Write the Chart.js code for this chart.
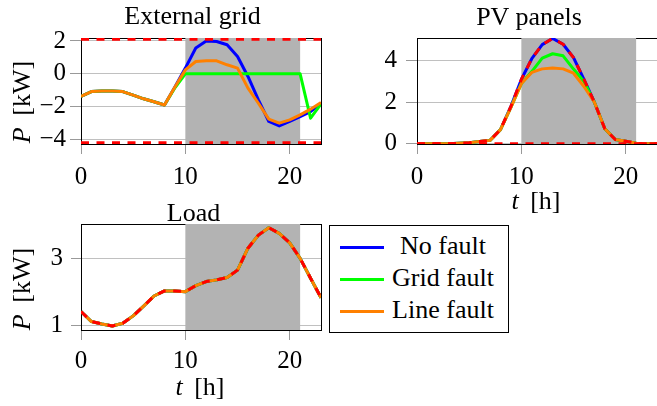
<!DOCTYPE html>
<html>
<head>
<meta charset="utf-8">
<script src="https://cdn.jsdelivr.net/npm/chart.js@4.4.1/dist/chart.umd.min.js"></script>
<style>
html,body{margin:0;padding:0;width:657px;height:406px;overflow:hidden;background:#fff;}
body{position:relative;font-family:'Liberation Serif','Times New Roman',serif;color:#000;}
canvas{position:absolute;}
.lbl{position:absolute;font-size:26px;line-height:26px;white-space:nowrap;transform:translate(-50%,-50%);}
.ax{word-spacing:5px;}
.rot{transform:translate(-50%,-50%) rotate(-90deg);}
#legend{position:absolute;left:329px;top:225px;width:178px;height:106px;border:1px solid #000;background:#fff;}
.swatch{position:absolute;left:10px;width:44px;height:3px;}
.ltxt{position:absolute;left:113px;font-size:26px;line-height:26px;white-space:nowrap;transform:translate(-50%,-50%);}
</style>
</head>
<body>
<canvas id="cGrid" width="330" height="195" style="left:0;top:0"></canvas>
<canvas id="cPV" width="340" height="220" style="left:330px;top:0"></canvas>
<canvas id="cLoad" width="330" height="216" style="left:0;top:190px"></canvas>

<div class="lbl" style="left:192.5px;top:16px">External grid</div>
<div class="lbl" style="left:529px;top:16.5px">PV panels</div>
<div class="lbl" style="left:193.5px;top:212.5px">Load</div>

<div class="lbl rot ax" style="left:21.5px;top:102px"><i>P</i> [kW]</div>
<div class="lbl rot ax" style="left:21.5px;top:289px"><i>P</i> [kW]</div>
<div class="lbl ax" style="left:536px;top:200.5px"><i>t</i> [h]</div>
<div class="lbl ax" style="left:200px;top:387px"><i>t</i> [h]</div>

<div id="legend"></div>

<script>
// ---------- data ----------
const hours = [0,1,2,3,4,5,6,7,8,9,10,11,12,13,14,15,16,17,18,19,20,21,22,23];
const seriesNames = ['No fault', 'Grid fault', 'Line fault'];
const faultWindow = [10, 21];
const xTickValues = [0, 10, 20];

// External grid power [kW]
const gridNoFault   = [-1.38,-1.08,-1.05,-1.05,-1.08,-1.3,-1.52,-1.7,-1.9,-0.8,0.35,1.57,2.0,1.97,1.77,1.05,-0.16,-1.59,-2.9,-3.17,-2.9,-2.6,-2.3,-1.79];
const gridGridFault = [-1.38,-1.08,-1.05,-1.05,-1.08,-1.3,-1.52,-1.7,-1.9,-0.85,0,0,0,0,0,0,0,0,0,0,0,0,-2.7,-1.83];
const gridLineFault = [-1.38,-1.08,-1.05,-1.05,-1.08,-1.3,-1.52,-1.7,-1.9,-0.8,0.24,0.75,0.79,0.79,0.55,0.35,-0.87,-1.79,-2.76,-3.0,-2.8,-2.5,-2.15,-1.75];
const gridLimits    = [2.1, -4.2];
const gridTickValues = [-4, -2, 0, 2];

// PV panels power [kW]
const pvNoFault   = [0,0,0,0,0.02,0.05,0.1,0.16,0.68,1.8,3.1,4.1,4.78,5.08,4.8,4.15,3.1,2.0,0.72,0.2,0.12,0.02,0,0];
const pvGridFault = [0,0,0,0,0.02,0.05,0.1,0.16,0.68,1.75,2.9,3.48,4.13,4.34,4.24,3.6,3.0,2.0,0.72,0.2,0.12,0.02,0,0];
const pvLineFault = [0,0,0,0,0.02,0.05,0.1,0.16,0.68,1.75,2.9,3.44,3.61,3.65,3.61,3.4,2.76,2.0,0.72,0.2,0.12,0.02,0,0];
const pvAvailable = [0,0,0,0,0.02,0.05,0.1,0.16,0.68,1.8,3.1,4.1,4.78,5.08,4.8,4.15,3.1,2.0,0.72,0.2,0.12,0.02,0,0];
const pvLowerLimit = [0];
const pvTickValues = [0, 2, 4];

// Load power [kW] (identical in all scenarios)
const loadDemand = [1.42,1.12,1.05,0.99,1.07,1.29,1.58,1.88,2.03,2.03,2.01,2.19,2.31,2.36,2.43,2.65,3.3,3.69,3.91,3.74,3.46,3.0,2.41,1.83];
const loadTickValues = [1, 3];

// ---------- styles ----------
const COLORS = ['#0000ff', '#00ff00', '#ff8000'];
const RED = '#ff0000';
const SHADE = '#b3b3b3';
const FONT = "'Liberation Serif', 'Times New Roman', serif";
Chart.defaults.font.family = FONT;
Chart.defaults.color = '#000';

function pts(values) { return values.map((v, i) => ({x: hours[i], y: v})); }
function flat(v) { return [{x: hours[0], y: v}, {x: hours[hours.length - 1], y: v}]; }
function line(data, color, order, dashed) {
  return {
    data, borderColor: color, backgroundColor: color, borderWidth: 3,
    pointRadius: 0, pointHoverRadius: 0, fill: false, tension: 0, order,
    borderDash: dashed ? [8, 7.5] : [], borderJoinStyle: 'round', borderCapStyle: 'butt'
  };
}

const shadePlugin = {
  id: 'shade',
  beforeDatasetsDraw(chart) {
    const {ctx, chartArea: a, scales} = chart;
    const L = Math.round(a.left) + 0.5, R = Math.round(a.right) + 0.5;
    const T = Math.round(a.top) + 0.5, B = Math.round(a.bottom) + 0.5;
    ctx.save();
    ctx.strokeStyle = '#000';
    ctx.lineWidth = 1;
    ctx.strokeRect(L, T, R - L, B - T);
    const x0 = scales.x.getPixelForValue(faultWindow[0]);
    const x1 = scales.x.getPixelForValue(faultWindow[1]);
    ctx.fillStyle = SHADE;
    ctx.fillRect(x0, Math.round(a.top), x1 - x0, Math.round(a.bottom) - Math.round(a.top));
    ctx.restore();
  }
};

function fmt(v) { return v < 0 ? '\u2212' + Math.abs(v) : String(v); }

function makeChart(id, o) {
  return new Chart(document.getElementById(id), {
    type: 'line',
    data: {datasets: o.datasets},
    options: {
      responsive: false, animation: false, events: [],
      layout: {padding: o.pad},
      plugins: {legend: {display: false}, tooltip: {enabled: false}, title: {display: false}},
      scales: {
        x: {
          type: 'linear', min: hours[0], max: hours[hours.length - 1],
          afterBuildTicks: s => { s.ticks = xTickValues.map(v => ({value: v})); },
          afterFit: s => { s.height = o.xHeight; },
          grid: {drawOnChartArea: false, drawTicks: true, tickLength: 10, tickColor: '#999'},
          border: {display: false},
          ticks: {color: '#000', font: {family: FONT, size: 25, lineHeight: 1}, padding: o.xTickPad, maxRotation: 0, autoSkip: false}
        },
        y: {
          type: 'linear', min: o.yMin, max: o.yMax,
          afterBuildTicks: s => { s.ticks = o.yTicks.map(v => ({value: v})); },
          afterFit: s => { s.width = o.yWidth; },
          grid: {color: '#c0c0c0', tickColor: '#999', tickLength: o.yTickLen},
          border: {display: false},
          ticks: {color: '#000', font: {family: FONT, size: 25, lineHeight: 1}, padding: o.yTickPad, autoSkip: false, callback: fmt}
        }
      }
    },
    plugins: [shadePlugin]
  });
}

makeChart('cGrid', {
  datasets: [
    line(pts(gridNoFault), COLORS[0], 4),
    line(pts(gridGridFault), COLORS[1], 3),
    line(pts(gridLineFault), COLORS[2], 2),
    line(flat(gridLimits[0]), RED, 1, true),
    line(flat(gridLimits[1]), RED, 1, true)
  ],
  yMin: -4.27, yMax: 2.18, yTicks: gridTickValues,
  pad: {left: 20, right: 9, top: 38, bottom: 0},
  yWidth: 61, xHeight: 51, xTickPad: 10.5, yTickPad: 4, yTickLen: 11
});

makeChart('cPV', {
  datasets: [
    line(pts(pvNoFault), COLORS[0], 4),
    line(pts(pvGridFault), COLORS[1], 3),
    line(pts(pvLineFault), COLORS[2], 2),
    line(pts(pvAvailable), RED, 1, true),
    line(flat(pvLowerLimit[0]), RED, 1, true)
  ],
  yMin: -0.015, yMax: 5.1, yTicks: pvTickValues,
  pad: {left: 30, right: 13, top: 38, bottom: 0},
  yWidth: 57, xHeight: 76, xTickPad: 10.5, yTickPad: 9, yTickLen: 11
});

makeChart('cLoad', {
  datasets: [
    line(pts(loadDemand), COLORS[0], 4),
    line(pts(loadDemand), COLORS[1], 3),
    line(pts(loadDemand), COLORS[2], 2),
    line(pts(loadDemand), RED, 1, true)
  ],
  yMin: 0.87, yMax: 4.02, yTicks: loadTickValues,
  pad: {left: 30, right: 9, top: 34, bottom: 0},
  yWidth: 51, xHeight: 76, xTickPad: 8.6, yTickPad: 8, yTickLen: 10
});

// legend (HTML)
const legend = document.getElementById('legend');
const rowY = [21, 53, 85];
seriesNames.forEach((name, i) => {
  const sw = document.createElement('div');
  sw.className = 'swatch';
  sw.style.top = (rowY[i] - 1.5) + 'px';
  sw.style.background = COLORS[i];
  legend.appendChild(sw);
  const t = document.createElement('div');
  t.className = 'ltxt';
  t.style.top = (rowY[i] - 1) + 'px';
  t.textContent = name;
  legend.appendChild(t);
});
</script>
</body>
</html>
